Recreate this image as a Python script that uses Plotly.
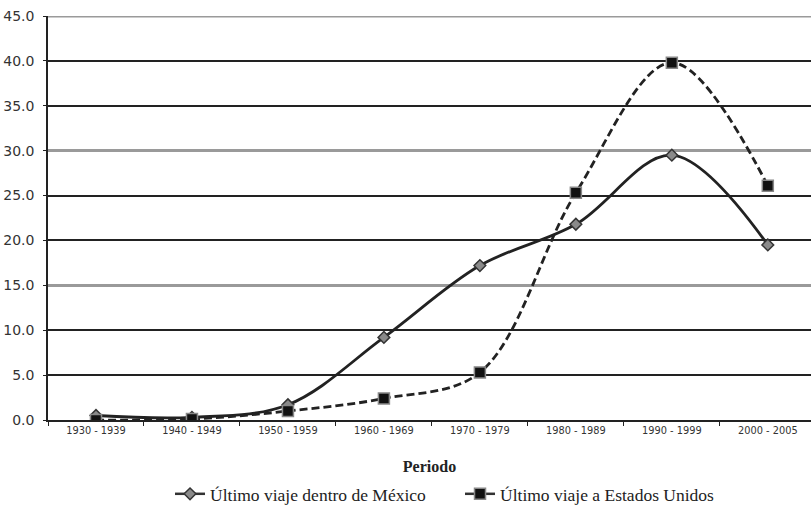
import plotly.graph_objects as go

periodos = ["1930 - 1939", "1940 - 1949", "1950 - 1959", "1960 - 1969",
            "1970 - 1979", "1980 - 1989", "1990 - 1999", "2000 - 2005"]
mexico = [0.5, 0.3, 1.7, 9.2, 17.2, 21.8, 29.5, 19.5]
eeuu = [0.0, 0.1, 1.0, 2.4, 5.3, 25.3, 39.8, 26.1]
nombres = ["Último viaje dentro de México", "Último viaje a Estados Unidos"]
y_max = 45

mx_marker = dict(symbol="diamond", size=9, color="#8a8a8a",
                 line=dict(color="#333333", width=1.5))
us_marker = dict(symbol="square", size=11, color="#111111",
                 line=dict(color="#888888", width=1.5))

fig = go.Figure()
# invisible helper trace to carry the grey gridlines (every 15)
fig.add_trace(go.Scatter(x=periodos, y=mexico, yaxis="y2", mode="none",
                         showlegend=False, hoverinfo="skip"))
fig.add_trace(go.Scatter(
    x=periodos, y=mexico, name=nombres[0], showlegend=False,
    mode="lines+markers",
    line=dict(color="#222222", width=2.8, shape="spline", smoothing=1.0),
    marker=mx_marker,
))
fig.add_trace(go.Scatter(
    x=periodos, y=eeuu, name=nombres[1], showlegend=False,
    mode="lines+markers",
    line=dict(color="#222222", width=2.8, dash="8px,4px", shape="spline", smoothing=1.0),
    marker=us_marker,
))
# legend entries (solid line symbols as in the original)
fig.add_trace(go.Scatter(x=[None], y=[None], name=nombres[0], mode="lines+markers",
                         line=dict(color="#333333", width=2.5), marker=mx_marker))
fig.add_trace(go.Scatter(x=[None], y=[None], name=nombres[1], mode="lines+markers",
                         line=dict(color="#333333", width=2.5), marker=us_marker))

# grey top gridline at the upper edge of the plot
fig.add_shape(type="line", xref="paper", x0=0, x1=1, yref="y", y0=y_max, y1=y_max,
              line=dict(color="#9a9a9a", width=3), layer="above")

fig.update_layout(
    width=811, height=508,
    margin=dict(l=48, r=0, t=16, b=88, autoexpand=False),
    paper_bgcolor="white", plot_bgcolor="white",
    showlegend=True,
    legend=dict(orientation="h", x=0.54, xanchor="center", y=-0.183, yanchor="middle",
                font=dict(family="Liberation Serif", size=17.5, color="#222222"),
                entrywidth=245, entrywidthmode="pixels",
                tracegroupgap=0),
    xaxis=dict(
        type="category", range=[-0.5, 7.45], automargin=False,
        showline=True, linecolor="#222222", linewidth=1.5,
        ticks="outside", ticklen=4, tickcolor="#222222", tickson="boundaries",
        showgrid=False,
        tickfont=dict(family="DejaVu Sans", size=9.8, color="#333333"),
        title=dict(text="<b>Periodo</b>", standoff=26,
                   font=dict(family="Liberation Serif", size=16, color="#222222")),
    ),
    yaxis=dict(
        range=[0, y_max], dtick=5, tick0=0, tickformat=".1f", automargin=False,
        showline=True, linecolor="#222222", linewidth=1.5,
        ticks="outside", ticklen=3, tickcolor="#222222", ticklabelstandoff=6,
        showgrid=True, gridcolor="#222222", gridwidth=1.5,
        zeroline=False,
        tickfont=dict(family="DejaVu Sans", size=14, color="#333333"),
    ),
    yaxis2=dict(
        range=[0, y_max], dtick=15, tick0=0, overlaying="y", side="left",
        showticklabels=False, showline=False, ticks="", zeroline=False,
        showgrid=True, gridcolor="#9a9a9a", gridwidth=3, automargin=False,
    ),
)

fig.write_html("out.html", config={"displayModeBar": False},
               post_script="document.body.style.margin='0';")
